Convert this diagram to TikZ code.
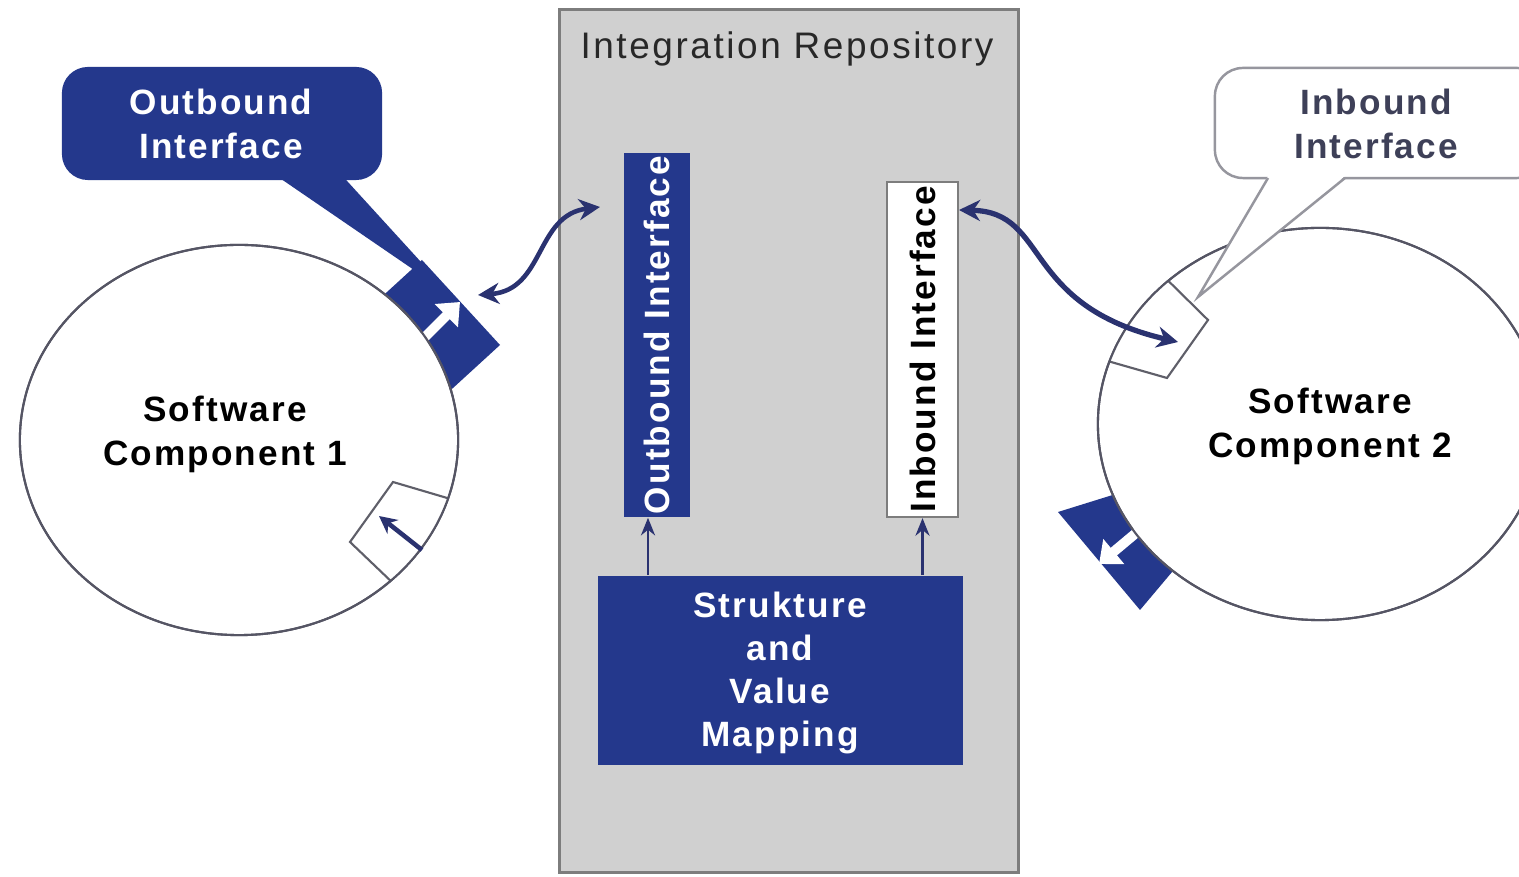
\documentclass[tikz,border=0pt]{standalone}
\usepackage{fontspec}
\setmainfont{Liberation Sans}
\newfontfamily\spfont[LetterSpace=6]{Liberation Sans}
\newfontfamily\spfontb[LetterSpace=7]{Liberation Sans}
\usetikzlibrary{shapes.geometric,arrows.meta}
\definecolor{navy}{RGB}{36,56,140}
\definecolor{arrownavy}{RGB}{42,50,112}
\definecolor{repogray}{RGB}{208,208,208}
\definecolor{repoborder}{RGB}{125,125,125}
\definecolor{ringline}{RGB}{85,85,100}
\definecolor{boxline}{RGB}{95,95,105}
\definecolor{slate}{RGB}{62,64,88}
\definecolor{titlegray}{RGB}{40,40,40}
\definecolor{calloutline}{RGB}{150,150,158}
\tikzset{
  lbl/.style={font=\spfont\bfseries\fontsize{10}{12.5}\selectfont, align=center, inner sep=0pt},
  ring/.style={ellipse, draw=ringline, line width=0.6pt, fill=white, inner sep=0pt},
  ringline/.style={draw=ringline, line width=0.6pt},
  navybox/.style={rectangle, fill=navy, inner sep=0pt},
  whitebox/.style={rectangle, fill=white, draw=boxline, line width=0.6pt, inner sep=0pt},
  portline/.style={draw=boxline, line width=0.6pt, fill=white},
  curvearrow/.style={arrownavy, line width=1.3pt, {Stealth[length=6pt,width=6pt]}-{Stealth[length=6pt,width=6pt]}},
  uparrow/.style={arrownavy, line width=0.8pt, -{Stealth[length=5pt,width=4pt]}},
  whitearrow/.style={white, line width=2.8pt, -{Triangle[length=5.5pt,width=9pt]}},
  inarrow/.style={arrownavy, line width=1.3pt, -{Stealth[length=5pt,width=5pt]}},
}
\begin{document}
\begin{tikzpicture}[x=0.01cm,y=-0.01cm]
\clip (0,0) rectangle (1519,877);
\fill[white] (0,0) rectangle (1519,877);

% Integration repository
\node[rectangle, fill=repogray, draw=repoborder, line width=0.8pt, minimum width=4.58cm, minimum height=8.62cm, inner sep=0pt] (repo) at (789,441) {};
\node[font=\spfontb\fontsize{10.5}{12}\selectfont, text=titlegray, inner sep=0pt] (repot) at (787,49) {Integration Repository};

% interface boxes in repository
\node[navybox, minimum width=0.66cm, minimum height=3.64cm] (obox) at (657,335) {};
\node[lbl, text=white, rotate=90] (otext) at (obox.center) {Outbound Interface};
\node[whitebox, draw=repoborder, minimum width=0.71cm, minimum height=3.35cm] (ibox) at (922.5,349.5) {};
\node[lbl, text=black, rotate=90] (itext) at (ibox.center) {Inbound Interface};

% mapping
\node[navybox, minimum width=3.65cm, minimum height=1.89cm] (map) at (780.5,670.5) {};
\node[lbl, text=white, font=\spfont\bfseries\fontsize{10}{12.2}\selectfont] (mapt) at (780,673) {Strukture\\and\\Value\\Mapping};
\draw[uparrow] ([xshift=-0.09cm]obox.south |- map.north) -- ([xshift=-0.09cm]obox.south);
\draw[uparrow] (ibox.south |- map.north) -- (ibox.south);

% outbound ports (behind the components)
\fill[navy] (422,260) -- (500,345) -- (441,399) -- (363,314) -- cycle;
\fill[navy] (1058,512) -- (1140,610) -- (1220,515) -- (1193,470) -- cycle;

% software components
\node[ring, minimum width=4.38cm, minimum height=3.9cm] (c1) at (239,440) {};
\node[ring, minimum width=4.44cm, minimum height=3.92cm] (c2) at (1320,424) {};
\node[lbl, text=black] (c1t) at (225,434) {Software\\Component 1};
\node[lbl, text=black] (c2t) at (1330,426) {Software\\Component 2};

% white arrows in outbound ports
\coordinate (p1a) at (424,338);
\coordinate (p1b) at (460,302);
\draw[whitearrow] (p1a) -- (p1b);
\coordinate (p2a) at (1142,528);
\coordinate (p2b) at (1099,564);
\draw[whitearrow] (p2a) -- (p2b);

% inbound ports (inside the components)
\begin{scope}
  \clip (239,440) ellipse [x radius=2.19cm, y radius=1.95cm];
  \draw[portline] (350,542) -- (393,482) -- (481,508) -- (418,607) -- cycle;
\end{scope}
\begin{scope}
  \clip (1320,424) ellipse [x radius=2.22cm, y radius=1.96cm];
  \draw[portline] (1208,320) -- (1140,253) -- (1076,352) -- (1167,378) -- cycle;
\end{scope}
\draw[ringline] (239,440) ellipse [x radius=2.19cm, y radius=1.95cm];
\draw[ringline] (1320,424) ellipse [x radius=2.22cm, y radius=1.96cm];
\coordinate (q1a) at (422,550);
\coordinate (q1b) at (379,516);
\draw[inarrow] (q1a) -- (q1b);

% callout: Outbound Interface
\node[rectangle, rounded corners=0.26cm, fill=navy, minimum width=3.2cm, minimum height=1.13cm, inner sep=0pt] (cout) at (222,123.5) {};
\fill[navy] (268,170) -- (337,170) -- (452,296) -- cycle;
\node[lbl, text=white] (coutt) at (221,124) {Outbound\\Interface};

% callout: Inbound Interface
\node[rectangle, rounded corners=0.28cm, fill=white, draw=calloutline, line width=0.7pt, minimum width=3.3cm, minimum height=1.1cm, inner sep=0pt] (cin) at (1380,123) {};
\coordinate (w1) at (1268,178);
\coordinate (w2) at (1345,178);
\coordinate (wt) at (1198,297);
\fill[white] (1268,176) -- (1345,176) -- (wt) -- cycle;
\draw[calloutline, line width=0.7pt] (w1) -- (wt) -- (w2);
\node[lbl, text=slate] (cint) at (1376,124) {Inbound\\Interface};

% curved double arrows
\coordinate (lc1) at (478,295);
\coordinate (lc2) at (600,207);
\draw[curvearrow] (lc1) .. controls (545,290) and (535,215) .. (lc2);
\coordinate (rc1) at (959,210);
\coordinate (rc2) at (1178,342);
\draw[curvearrow, line width=1.5pt] (rc1) .. controls (1050,212) and (1020,305) .. (rc2);
\end{tikzpicture}
\end{document}
